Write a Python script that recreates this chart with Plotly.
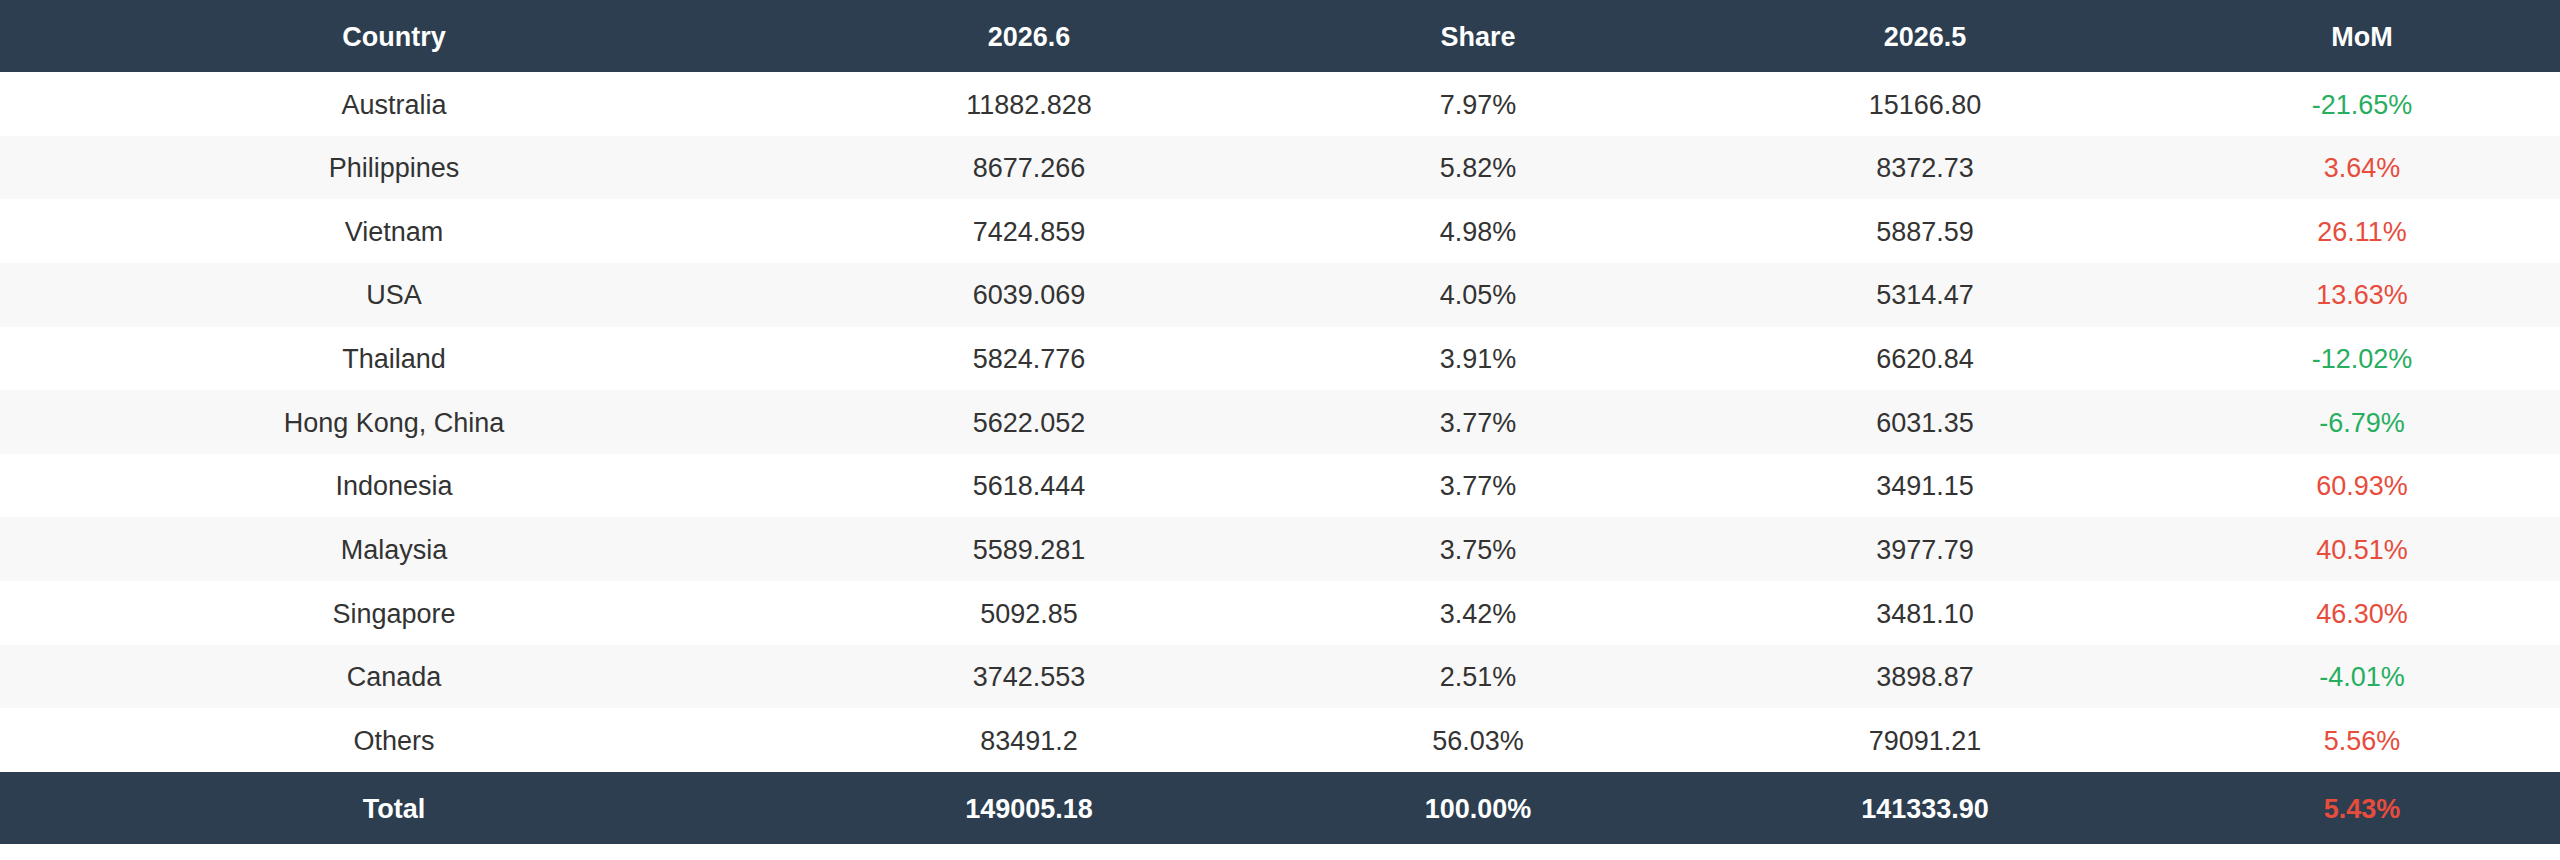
import plotly.graph_objects as go

# table data
columns = ["Country", "2026.6", "Share", "2026.5", "MoM"]
countries = ["Australia", "Philippines", "Vietnam", "USA", "Thailand", "Hong Kong, China",
             "Indonesia", "Malaysia", "Singapore", "Canada", "Others"]
jun = [11882.828, 8677.266, 7424.859, 6039.069, 5824.776, 5622.052,
       5618.444, 5589.281, 5092.85, 3742.553, 83491.2]
share = [7.97, 5.82, 4.98, 4.05, 3.91, 3.77, 3.77, 3.75, 3.42, 2.51, 56.03]
may = [15166.80, 8372.73, 5887.59, 5314.47, 6620.84, 6031.35,
       3491.15, 3977.79, 3481.10, 3898.87, 79091.21]
mom = [-21.65, 3.64, 26.11, 13.63, -12.02, -6.79, 60.93, 40.51, 46.30, -4.01, 5.56]
total = ["Total", "149005.18", "100.00%", "141333.90", "5.43%"]

DARK = "#2c3e50"
STRIPE = "#f8f8f8"
TXT = "#333333"
UP = "#e74c3c"
DOWN = "#27ae60"
FONT = "Liberation Sans, Arial, sans-serif"

# layout sizes (px)
W, H = 2560, 860
colw = [788, 482, 416, 478, 396]
head_h, row_h, total_h = 72, 63.64, 71.5
text_nudge = 3  # plotly's middle-center sits a touch high

n = len(countries)
rows = [["<b>%s</b>" % c for c in columns]]
colors = [["white"] * 5]
for i in range(n):
    rows.append([countries[i], str(jun[i]), "%.2f%%" % share[i], "%.2f" % may[i], "%.2f%%" % mom[i]])
    colors.append([TXT] * 4 + [UP if mom[i] >= 0 else DOWN])
rows.append(["<b>%s</b>" % t for t in total])
colors.append(["white"] * 4 + [UP])

# background kind: 0 white, 1 stripe, 2 dark
z = [[2] * 5] + [[i % 2] * 5 for i in range(n)] + [[2] * 5]

xe = [0]
for w in colw:
    xe.append(xe[-1] + w)
heights = [head_h] + [row_h] * n + [total_h]
ye = [0]
for h in heights:
    ye.append(ye[-1] + h)

xc = [(xe[j] + xe[j + 1]) / 2 for j in range(5)]
yc = [(ye[i] + ye[i + 1]) / 2 + text_nudge for i in range(len(heights))]

fig = go.Figure()
fig.add_trace(go.Heatmap(
    z=z, x=xe, y=ye, zmin=0, zmax=2, showscale=False, hoverinfo="skip",
    colorscale=[[0, "white"], [0.5, STRIPE], [1, DARK]],
))
tx, ty, tt, tc = [], [], [], []
for i, r in enumerate(rows):
    for j, t in enumerate(r):
        tx.append(xc[j])
        ty.append(yc[i])
        tt.append(t)
        tc.append(colors[i][j])
fig.add_trace(go.Scatter(
    x=tx, y=ty, text=tt, mode="text", textposition="middle center",
    textfont=dict(family=FONT, size=27, color=tc), hoverinfo="skip", showlegend=False,
))
fig.update_xaxes(range=[0, W], visible=False, fixedrange=True)
fig.update_yaxes(range=[H, 0], visible=False, fixedrange=True)
fig.update_layout(width=W, height=H, margin=dict(l=0, r=0, t=0, b=0),
                  paper_bgcolor="white", plot_bgcolor="white", showlegend=False)
# drop the page's default body margin so the table sits flush
fig.write_html("out.html", config={"displayModeBar": False},
               post_script="document.body.style.margin='0';")
